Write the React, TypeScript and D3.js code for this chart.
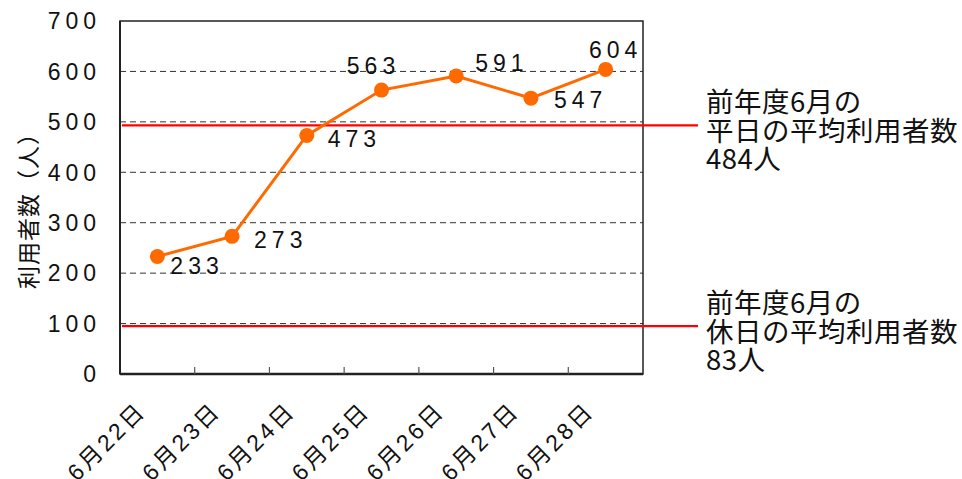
import React from 'react';
import * as d3 from 'd3';

const categories = ['6月22日', '6月23日', '6月24日', '6月25日', '6月26日', '6月27日', '6月28日'];
const users = [233, 273, 473, 563, 591, 547, 604];
const yTicks = [0, 100, 200, 300, 400, 500, 600, 700];

// reference lines (drawn position) and their labels
const refValues = [493, 95];
const refLabels = [
  ['前年度6月の', '平日の平均利用者数', '484人'],
  ['前年度6月の', '休日の平均利用者数', '83人'],
];

// where each data label sits relative to its point
const labelOffsets: [number, number, string][] = [
  [13, 9, 'start'],
  [22, 3, 'start'],
  [21, 3, 'start'],
  [-8, -24, 'middle'],
  [19, -13, 'start'],
  [23, 2, 'start'],
  [10, -20, 'middle'],
];

const W = 962;
const H = 479;
const margin = { top: 21, right: 319, bottom: 105, left: 120 };
const orange = '#ff6a00';
const font = 'Arial, "Liberation Sans", "Noto Sans CJK JP", sans-serif';
const jpFont = '"Noto Sans CJK JP", sans-serif';

const App: React.FC = () => {
  const x = d3
    .scaleBand<string>()
    .domain(categories)
    .range([margin.left, W - margin.right]);
  const y = d3
    .scaleLinear()
    .domain([0, 700])
    .range([H - margin.bottom, margin.top]);

  const cx = (c: string) => (x(c) as number) + x.bandwidth() / 2;
  const pts = categories.map((c, i) => ({ c, v: users[i] }));

  const line = d3
    .line<{ c: string; v: number }>()
    .x((d) => cx(d.c))
    .y((d) => y(d.v));

  const x0 = margin.left;
  const x1 = W - margin.right;
  const yBottom = y(0);
  const yTop = y(700);

  return (
    <svg width={W} height={H} style={{ display: 'block', position: 'absolute', left: 0, top: 0 }}>
      <rect width={W} height={H} fill="#fff" />

      {/* grid lines */}
      {yTicks
        .filter((t) => t > 0 && t < 700)
        .map((t) => (
          <line
            key={t}
            x1={x0}
            x2={x1}
            y1={y(t)}
            y2={y(t)}
            stroke="#333"
            strokeWidth={1}
            strokeDasharray="6,4"
          />
        ))}

      {/* frame */}
      <rect x={x0} y={yTop} width={x1 - x0} height={yBottom - yTop} fill="none" stroke="#222" strokeWidth={1.5} />
      <line x1={x0} x2={x1} y1={yBottom} y2={yBottom} stroke="#222" strokeWidth={2.5} />
      <line x1={x0} x2={x0} y1={yTop} y2={yBottom} stroke="#222" strokeWidth={2} />

      {/* x tick marks at band edges */}
      {categories.slice(1).map((c) => (
        <line
          key={c}
          x1={x(c) as number}
          x2={x(c) as number}
          y1={yBottom}
          y2={yBottom - 7}
          stroke="#555"
          strokeWidth={1.2}
        />
      ))}

      {/* y tick labels */}
      {yTicks.map((t) => (
        <text
          key={t}
          x={101}
          y={y(t)}
          dy="0.36em"
          textAnchor="end"
          fontFamily={font}
          fontSize={23}
          letterSpacing={5}
          fill="#111"
        >
          {t}
        </text>
      ))}

      {/* y axis title */}
      <text
        transform={`translate(27, 205) rotate(-90)`}
        textAnchor="middle"
        dominantBaseline="central"
        fontFamily={jpFont}
        fontSize={23}
        letterSpacing={1}
        fill="#111"
      >
        利用者数（人）
      </text>

      {/* x tick labels */}
      {categories.map((c) => (
        <text
          key={c}
          transform={`translate(${cx(c) - 10}, ${yBottom + 38}) rotate(-45)`}
          textAnchor="end"
          fontFamily={font}
          fontSize={23}
          letterSpacing={3}
          fill="#111"
        >
          {c}
        </text>
      ))}

      {/* reference lines */}
      {refValues.map((v, i) => (
        <g key={i}>
          <line x1={x0 + 2} x2={698} y1={y(v)} y2={y(v)} stroke="#ff0000" strokeWidth={2.2} />
          {refLabels[i].map((s, j) => (
            <text
              key={j}
              x={706}
              y={y(v) - 13 + j * 28.5}
              fontFamily={jpFont}
              fontSize={27.5}
              letterSpacing={0.5}
              fill="#111"
            >
              {s}
            </text>
          ))}
        </g>
      ))}

      {/* series */}
      <path d={line(pts) ?? ''} fill="none" stroke={orange} strokeWidth={3} />
      {pts.map((d) => (
        <circle key={d.c} cx={cx(d.c)} cy={y(d.v)} r={7.5} fill={orange} />
      ))}

      {/* data labels */}
      {pts.map((d, i) => {
        const [dx, dy, anchor] = labelOffsets[i];
        return (
          <text
            key={d.c}
            x={cx(d.c) + dx}
            y={y(d.v) + dy}
            dy="0.36em"
            textAnchor={anchor}
            fontFamily={font}
            fontSize={23}
            letterSpacing={5}
            fill="#111"
          >
            {d.v}
          </text>
        );
      })}
    </svg>
  );
};

export default App;
